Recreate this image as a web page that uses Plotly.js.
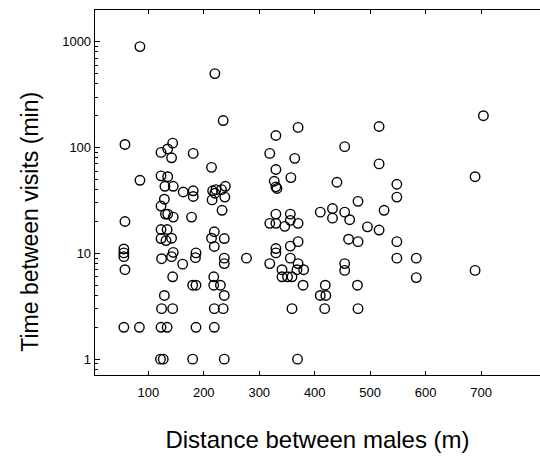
<!DOCTYPE html>
<html>
<head>
<meta charset="utf-8">
<script src="https://cdn.plot.ly/plotly-3.0.1.min.js"></script>
<style>html,body{margin:0;padding:0;background:#fff;}#chart{width:540px;height:459px;}</style>
</head>
<body>
<div id="chart"></div>
<script>
// Distance between males (m)
const distance = [
  85, 220, 235, 704, 370, 516, 330, 58, 144, 135,
  454, 123, 142, 181, 319, 364, 214, 516, 330, 123,
  135, 357, 689, 85, 327, 440, 548, 130, 145, 330,
  332, 163, 181, 181, 216, 222, 220, 232, 239, 215,
  238, 548, 478, 129, 123, 233, 525, 432, 410, 454,
  131, 135, 330, 356, 145, 178, 432, 463, 356, 58,
  319, 330, 370, 346, 495, 123, 134, 516, 219, 123,
  132, 142, 214, 237, 461, 370, 478, 548, 219, 356,
  56, 56, 56, 330, 330, 145, 142, 124, 186, 185,
  237, 277, 356, 548, 583, 162, 237, 319, 370, 454,
  454, 689, 58, 341, 368, 380, 144, 218, 341, 351,
  359, 583, 180, 186, 218, 230, 379, 419, 477, 129,
  237, 410, 420, 124, 144, 219, 235, 359, 418, 478,
  56, 84, 123, 134, 186, 219, 122, 127, 180, 237,
  369
];
// Time between visits (min)
const timeMin = [
  900, 500, 180, 200, 155, 158, 130, 107, 110, 97,
  102, 90, 80, 88, 88, 79, 65, 70, 62, 54,
  53, 52, 53, 49, 48, 47, 45, 43, 43, 42.5,
  41, 38, 39, 34.5, 39, 40, 37, 40, 43, 32,
  34, 34, 31, 32.5, 28, 25.5, 25.5, 26.5, 24.5, 24.5,
  23.5, 23.5, 23.5, 23.5, 22, 22, 21.5, 20.8, 20.5, 20,
  19.2, 19.2, 19.2, 18, 17.8, 16.8, 16.8, 16.6, 16, 13.8,
  13.2, 13.9, 13.9, 13.8, 13.6, 12.9, 12.9, 12.9, 11.6, 11.7,
  11, 10.1, 9.3, 11.1, 10.1, 10.2, 9.3, 8.9, 10.1, 9.1,
  9, 9, 9, 9, 9, 7.9, 8, 8, 8, 8,
  6.9, 6.9, 7, 7, 7, 7, 6, 6, 6, 6,
  6, 5.9, 5, 5, 5, 5, 5, 5, 5, 4,
  4, 4, 4, 3, 3, 3, 3, 3, 3, 3,
  2, 2, 2, 2, 2, 2, 1, 1, 1, 1,
  1
];
const xTicks = [100, 200, 300, 400, 500, 600, 700];
const yTicks = [1, 10, 100, 1000];
const yTickText = ["1", "10", "100", "1000"];
const xTitle = "Distance between males (m)";
const yTitle = "Time between visits (min)";
const yMinor = [0.8, 0.9];
[1, 10, 100, 1000].forEach(d => { for (let k = 2; k <= 9; k++) { if (d * k < 2000) yMinor.push(d * k); } });

const font = "Liberation Sans, Arial, Helvetica, sans-serif";

const trace = {
  x: distance,
  y: timeMin,
  type: "scatter",
  mode: "markers",
  marker: {symbol: "circle-open", size: 9.5, color: "#000", line: {color: "#000", width: 1.4}},
  hoverinfo: "x+y"
};

const layout = {
  width: 540,
  height: 459,
  margin: {l: 95, r: 0, t: 10, b: 84},
  paper_bgcolor: "#fff",
  plot_bgcolor: "#fff",
  showlegend: false,
  font: {family: font, color: "#000"},
  xaxis: {
    range: [4, 806],
    tickmode: "array",
    tickvals: xTicks,
    ticks: "inside",
    ticklen: 4,
    tickwidth: 1,
    tickcolor: "#000",
    ticklabelstandoff: 5,
    showline: true,
    linecolor: "#000",
    linewidth: 1.3,
    mirror: "ticks",
    showgrid: false,
    zeroline: false,
    tickfont: {family: font, size: 13, color: "#000"},
    title: {text: xTitle, font: {family: font, size: 24, color: "#000"}, standoff: 32}
  },
  yaxis: {
    type: "log",
    range: [-0.15, 3.30],
    tickmode: "array",
    tickvals: yTicks,
    ticktext: yTickText,
    ticks: "inside",
    ticklen: 5,
    tickwidth: 1,
    tickcolor: "#000",
    minor: {tickmode: "array", tickvals: yMinor, ticks: "inside", ticklen: 3, tickwidth: 1, tickcolor: "#000", showgrid: false},
    showline: true,
    linecolor: "#000",
    linewidth: 1.3,
    mirror: false,
    showgrid: false,
    zeroline: false,
    tickfont: {family: font, size: 13, color: "#000"}
  },
  annotations: [{
    text: yTitle,
    xref: "paper", yref: "paper",
    x: -0.146, y: 0.42,
    xanchor: "center", yanchor: "middle",
    textangle: -90,
    showarrow: false,
    font: {family: font, size: 23, color: "#000"}
  }]
};

Plotly.newPlot("chart", [trace], layout, {displayModeBar: false, staticPlot: true});
</script>
</body>
</html>
